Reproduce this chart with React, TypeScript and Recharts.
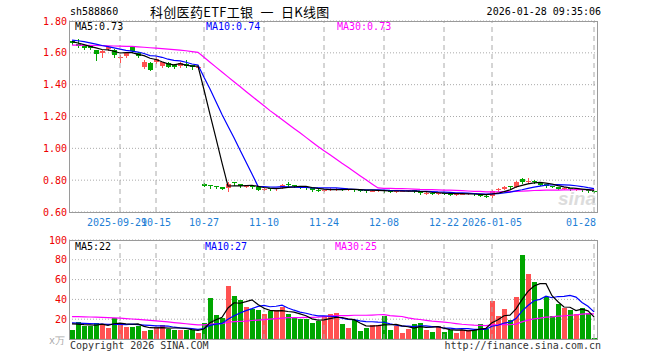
import React from 'react';
import { ComposedChart, Bar, Line, XAxis, YAxis, CartesianGrid, ReferenceLine } from 'recharts';

const dates = ['2025-09-17','2025-09-18','2025-09-19','2025-09-22','2025-09-23','2025-09-24','2025-09-25','2025-09-26','2025-09-29','2025-09-30','2025-10-09','2025-10-10','2025-10-13','2025-10-14','2025-10-15','2025-10-16','2025-10-17','2025-10-20','2025-10-21','2025-10-22','2025-10-23','2025-10-24','2025-10-27','2025-10-28','2025-10-29','2025-10-30','2025-10-31','2025-11-03','2025-11-04','2025-11-05','2025-11-06','2025-11-07','2025-11-10','2025-11-11','2025-11-12','2025-11-13','2025-11-14','2025-11-17','2025-11-18','2025-11-19','2025-11-20','2025-11-21','2025-11-24','2025-11-25','2025-11-26','2025-11-27','2025-11-28','2025-12-01','2025-12-02','2025-12-03','2025-12-04','2025-12-05','2025-12-08','2025-12-09','2025-12-10','2025-12-11','2025-12-12','2025-12-15','2025-12-16','2025-12-17','2025-12-18','2025-12-19','2025-12-22','2025-12-23','2025-12-24','2025-12-25','2025-12-26','2025-12-29','2025-12-30','2025-12-31','2026-01-05','2026-01-06','2026-01-07','2026-01-08','2026-01-09','2026-01-12','2026-01-13','2026-01-14','2026-01-15','2026-01-16','2026-01-19','2026-01-20','2026-01-21','2026-01-22','2026-01-23','2026-01-26','2026-01-27','2026-01-28'];

const openP = [1.672,1.658,1.643,1.640,1.618,1.600,1.622,1.615,1.570,1.578,1.640,1.600,1.510,1.538,1.540,1.515,1.538,1.524,1.517,1.530,1.522,1.505,
0.778,0.768,0.762,0.757,0.748,0.787,0.776,0.760,0.765,0.757,0.741,0.748,0.742,0.752,0.778,0.767,0.762,0.756,0.748,0.740,0.735,0.740,0.742,0.745,0.740,0.744,0.738,0.737,0.731,0.735,0.738,0.730,0.727,0.731,0.732,0.736,0.729,0.718,0.722,0.716,0.722,0.714,0.709,0.712,0.714,0.717,0.710,0.703,0.700,0.736,0.746,0.762,0.756,0.808,0.787,0.796,0.782,0.774,0.764,0.757,0.745,0.750,0.740,0.745,0.737,0.731];
const highP = [1.676,1.684,1.647,1.642,1.620,1.615,1.640,1.622,1.585,1.605,1.645,1.603,1.555,1.542,1.572,1.545,1.545,1.528,1.540,1.555,1.525,1.518,
0.780,0.769,0.764,0.758,0.786,0.790,0.779,0.770,0.768,0.759,0.752,0.750,0.752,0.773,0.787,0.770,0.764,0.758,0.750,0.742,0.744,0.752,0.748,0.747,0.747,0.746,0.740,0.739,0.738,0.740,0.740,0.732,0.734,0.735,0.738,0.737,0.730,0.726,0.723,0.725,0.723,0.716,0.716,0.718,0.720,0.718,0.712,0.705,0.740,0.750,0.762,0.766,0.795,0.815,0.814,0.802,0.784,0.777,0.766,0.759,0.755,0.753,0.750,0.747,0.739,0.733];
const lowP = [1.655,1.634,1.626,1.626,1.558,1.572,1.618,1.575,1.545,1.572,1.608,1.572,1.505,1.490,1.535,1.510,1.508,1.503,1.512,1.512,1.500,1.500,
0.762,0.752,0.750,0.742,0.735,0.772,0.758,0.754,0.752,0.736,0.738,0.738,0.740,0.750,0.764,0.758,0.752,0.744,0.735,0.733,0.732,0.737,0.738,0.737,0.738,0.734,0.733,0.728,0.729,0.732,0.726,0.725,0.725,0.729,0.730,0.726,0.715,0.716,0.713,0.714,0.711,0.707,0.707,0.710,0.712,0.708,0.699,0.696,0.695,0.732,0.742,0.752,0.754,0.780,0.785,0.782,0.768,0.760,0.754,0.743,0.742,0.739,0.737,0.733,0.727,0.726];
const closeP = [1.660,1.645,1.630,1.630,1.590,1.612,1.634,1.585,1.575,1.600,1.612,1.578,1.545,1.495,1.560,1.540,1.513,1.510,1.536,1.517,1.508,1.512,
0.766,0.765,0.758,0.746,0.773,0.783,0.762,0.764,0.756,0.741,0.745,0.742,0.750,0.770,0.767,0.762,0.756,0.748,0.739,0.736,0.740,0.743,0.745,0.740,0.744,0.738,0.736,0.731,0.735,0.738,0.729,0.727,0.731,0.733,0.736,0.729,0.718,0.722,0.716,0.722,0.714,0.710,0.713,0.715,0.717,0.710,0.702,0.699,0.735,0.745,0.758,0.756,0.790,0.787,0.795,0.788,0.772,0.765,0.758,0.746,0.750,0.742,0.744,0.736,0.730,0.728];

const ma5P = [1.670,1.662,1.652,1.641,1.631,1.621,1.619,1.610,1.599,1.601,1.601,1.590,1.582,1.566,1.558,1.544,1.531,1.524,1.532,1.523,1.517,1.517,
1.368,1.214,1.062,0.909,0.762,0.765,0.764,0.766,0.768,0.761,0.754,0.750,0.747,0.750,0.755,0.758,0.761,0.761,0.754,0.748,0.744,0.741,0.741,0.741,0.742,0.742,0.741,0.738,0.737,0.736,0.734,0.732,0.732,0.732,0.731,0.731,0.729,0.728,0.724,0.721,0.718,0.717,0.715,0.715,0.714,0.713,0.711,0.709,0.713,0.718,0.728,0.739,0.757,0.767,0.777,0.783,0.786,0.781,0.776,0.766,0.758,0.752,0.748,0.744,0.740,0.736];
const ma10P = [1.680,1.676,1.670,1.663,1.655,1.646,1.639,1.631,1.623,
1.616,1.611,1.605,1.596,1.583,1.580,1.572,1.560,1.553,1.549,1.541,1.530,1.524,
1.446,1.373,1.293,1.213,1.139,1.066,0.989,0.914,0.839,0.761,
0.759,0.757,0.756,0.759,0.758,0.756,0.755,0.754,0.752,0.752,
0.751,0.751,0.751,0.748,0.745,0.743,0.741,0.739,0.739,0.739,
0.738,0.736,0.735,0.734,0.733,0.733,0.731,0.730,0.728,0.726,
0.725,0.723,0.721,0.720,0.718,0.716,0.714,0.712,0.714,0.716,
0.720,0.725,0.733,0.740,0.748,0.756,0.763,0.769,0.771,0.772,
0.771,0.769,0.765,0.760,0.753,0.747];
const ma30P = [1.648,1.648,1.647,1.647,1.646,1.645,1.644,1.643,1.642,1.641,1.640,1.638,1.635,1.632,1.629,1.626,1.623,1.620,1.617,1.613,1.608,1.603,
1.572,1.541,1.510,1.480,1.449,1.418,1.388,1.357,
1.327,1.297,1.267,1.237,1.209,1.181,1.153,1.125,1.098,1.069,
1.040,1.012,0.985,0.960,0.933,0.906,0.881,0.855,0.828,0.802,
0.776,0.751,0.749,0.748,0.747,0.747,0.746,0.744,0.742,0.741,
0.740,0.739,0.738,0.737,0.736,0.734,0.732,0.730,0.729,0.727,
0.727,0.727,0.728,0.728,0.730,0.731,0.733,0.735,0.736,0.737,
0.738,0.738,0.739,0.739,0.740,0.740,0.740,0.739];

const volume = [9.5,17.3,13.3,13.3,16.3,14.6,11.6,21.4,16.5,12.6,12.6,13.6,8.5,9.5,12,14,10.4,9.5,9.5,9.5,8.8,6.4,
16.5,41.3,24,21.4,53.2,43,39,31.9,30.5,29.5,24.8,28.4,29,31.9,24.8,21.4,19.7,19.7,16,18,23.7,25.4,
25.8,15.6,11.6,19.3,8.5,11.6,14,14,23,9.5,12.9,6.4,10.4,15.6,16.6,9.5,7.4,13.6,7.4,9.5,6.4,9.5,
8.8,9.5,15.6,10.4,38,23.7,29.9,18.7,42,84.7,65.4,57.3,29.9,42,23.7,35,31,29,25,31,25.8,1.4];
const ma5V = [15.3,15.0,14.5,14.2,
13.9,15.0,13.8,15.4,16.1,15.3,14.9,15.3,12.8,11.4,11.2,11.5,10.9,11.1,11.1,10.6,9.5,8.7,
10.1,16.5,19.4,21.9,31.3,36.6,36.1,37.7,39.5,34.8,
31.1,29.0,28.4,28.7,27.8,27.1,25.4,23.5,20.3,19.0,
19.4,20.6,21.8,21.7,20.4,19.5,16.2,13.3,13.0,13.5,
14.2,14.4,14.7,13.2,12.4,11.0,12.4,11.7,11.9,12.5,
10.9,9.5,8.9,9.3,8.3,8.7,10.0,10.8,16.5,19.4,
23.5,24.1,30.5,39.8,48.1,53.6,55.9,55.9,43.7,37.6,
32.3,32.1,28.7,30.2,28.4,22.4];
const ma10V = [16.3,16.0,15.8,15.5,15.2,15.0,14.8,14.9,14.8,
14.6,15.0,14.6,14.1,13.7,13.3,13.2,13.1,11.9,11.2,10.9,10.5,9.8,
10.6,13.8,15.0,15.7,20.0,23.4,26.3,28.6,30.7,33.0,
33.9,32.6,33.1,34.1,31.3,29.1,27.2,26.0,24.5,23.4,
23.3,23.0,22.6,21.0,19.7,19.5,18.4,17.6,17.4,17.0,
16.9,15.3,14.0,13.1,13.0,12.6,13.4,13.2,12.5,12.5,
10.9,10.9,10.3,10.6,10.4,9.8,9.7,9.8,12.9,13.9,
16.1,17.1,20.6,28.1,33.8,38.6,40.0,43.2,41.7,42.9,
43.0,44.0,42.3,36.9,33.0,27.4];
const ma30V = [22.7,22.6,22.4,22.2,22.0,21.8,21.5,21.3,21.0,20.6,20.2,19.8,19.3,18.8,18.3,17.8,17.2,16.6,16.0,15.4,14.8,14.2,14.3,15.1,15.4,15.6,16.9,17.6,17.9,18.0,
18.7,19.1,19.5,20.0,20.5,21.0,21.5,21.5,21.6,21.8,
21.9,22.1,22.6,23.1,23.6,23.6,23.7,24.0,24.0,24.0,
24.2,24.5,24.7,23.6,23.2,22.7,21.3,20.4,19.7,18.9,
18.1,17.6,17.0,16.4,15.6,14.9,14.4,14.0,13.8,13.5,
14.3,14.4,14.6,14.4,15.0,17.3,19.1,20.3,21.0,22.1,
22.4,23.1,23.3,24.0,24.4,25.2,25.7,25.3];

const tickDates = ['2025-09-29','2025-10-15','2025-10-27','2025-11-10','2025-11-24','2025-12-08','2025-12-22','2026-01-05','2026-01-28'];
const tickTexts = ['2025-09-29','10-15','10-27','11-10','11-24','12-08','12-22','2026-01-05','01-28'];
const priceTicks = [0.6, 0.8, 1.0, 1.2, 1.4, 1.6, 1.8];
const volTicks = [0, 20, 40, 60, 80, 100];
const volUnit = 'x万';
const priceLegend = ['MA5:0.73', 'MA10:0.74', 'MA30:0.73'];
const volLegend = ['MA5:22', 'MA10:27', 'MA30:25'];
const headerCode = 'sh588860';
const headerTitle = '科创医药ETF工银 一 日K线图';
const headerTime = '2026-01-28 09:35:06';
const footerLeft = 'Copyright 2026 SINA.COM';
const footerRight = 'http://finance.sina.com.cn';

const UP = '#ff5252';
const DOWN = '#00a600';
const MONO = '"DejaVu Sans Mono", monospace';
const MA_COLORS = ['#000000', '#0000ff', '#ff00ff'];
const LEG_X = [75, 206, 337];
const VLEG_X = [75, 205, 335];

const Candle = (props: any) => {
  const { x, y, width, height, payload } = props;
  if (x == null || y == null || !payload) return null;
  const { open, close, high, low } = payload;
  const k = high > low ? height / (high - low) : 0;
  const yOf = (p: number) => y + (high - p) * k;
  const up = close >= open;
  const color = up ? UP : DOWN;
  const x0 = Math.round(x + width / 2 - 2.5);
  const top = Math.round(yOf(Math.max(open, close)));
  const bot = Math.round(yOf(Math.min(open, close)));
  const bh = Math.max(1, bot - top);
  return (
    <g>
      <line x1={x0 + 2.5} x2={x0 + 2.5} y1={Math.round(y)} y2={Math.round(y + height) + 1} stroke={color} strokeWidth={1} />
      <rect x={x0} y={top} width={5} height={bh} fill={color} shapeRendering="crispEdges" />
    </g>
  );
};

const VolBar = (props: any) => {
  const { x, y, width, height, payload } = props;
  if (x == null || y == null || !payload) return null;
  const x0 = Math.round(x + width / 2 - 2.5);
  const top = Math.round(y);
  const bot = Math.round(y + height);
  return <rect x={x0} y={top} width={5} height={Math.max(1, bot - top)} fill={payload.up ? UP : DOWN} shapeRendering="crispEdges" />;
};

const renderDateTick = (props: any) => {
  const { x, payload } = props;
  const idx = tickDates.indexOf(payload.value);
  if (idx < 0) return <g />;
  const last = idx === tickDates.length - 1;
  const first = idx === 0;
  return (
    <text x={last ? x + 2 : first ? x - 3 : x} y={225.5} textAnchor={last ? 'end' : 'middle'} fill="#1f7fd6" fontSize={10} fontFamily={MONO}>
      {tickTexts[idx]}
    </text>
  );
};

const renderPriceTick = (props: any) => {
  const { y, payload } = props;
  return (
    <text x={67} y={y} dy={3.5} textAnchor="end" fill="#ee0000" fontSize={10} fontFamily={MONO}>
      {Number(payload.value).toFixed(2)}
    </text>
  );
};

const renderVolTick = (props: any) => {
  const { y, payload } = props;
  if (payload.value === 0) {
    return (
      <text x={65} y={y} dy={5} textAnchor="end" fill="#aaaaaa" fontSize={10} fontFamily={MONO}>
        {volUnit}
      </text>
    );
  }
  return (
    <text x={67} y={y} dy={3.5} textAnchor="end" fill="#ee0000" fontSize={10} fontFamily={MONO}>
      {String(payload.value)}
    </text>
  );
};

export default function App() {
  const priceData = dates.map((d, i) => ({
    date: d,
    range: [lowP[i], highP[i]],
    open: openP[i],
    close: closeP[i],
    high: highP[i],
    low: lowP[i],
    ma5: ma5P[i],
    ma10: ma10P[i],
    ma30: ma30P[i],
  }));
  const volData = dates.map((d, i) => ({
    date: d,
    vol: volume[i],
    up: closeP[i] >= openP[i],
    ma5: ma5V[i],
    ma10: ma10V[i],
    ma30: ma30V[i],
  }));

  const txt = (extra: React.CSSProperties): React.CSSProperties => ({
    position: 'absolute',
    fontFamily: MONO,
    fontSize: 10,
    lineHeight: '10px',
    whiteSpace: 'nowrap',
    ...extra,
  });

  return (
    <div style={{ position: 'absolute', left: 0, top: 0, width: 660, height: 360, background: '#fff', overflow: 'hidden' }}>
      <div style={{ position: 'absolute', left: 558, top: 189, fontFamily: 'Arial, "Liberation Sans", sans-serif', fontWeight: 'bold', fontStyle: 'italic', fontSize: 19, lineHeight: '20px', color: '#dcdcdc' }}>sina</div>

      <div style={{ position: 'absolute', left: 0, top: 0 }}>
        <ComposedChart width={660} height={240} data={priceData} margin={{ top: 21, right: 63, bottom: 8, left: 0 }}>
          <CartesianGrid vertical={false} stroke="#aaaaaa" strokeDasharray="1 2" />
          {tickDates.map((d) => (
            <ReferenceLine key={d} x={d} stroke="#aaaaaa" strokeDasharray="5 4" />
          ))}
          <XAxis dataKey="date" ticks={tickDates} interval={0} axisLine={false} tickLine={false} height={20} tick={renderDateTick} />
          <YAxis type="number" domain={[0.6, 1.8]} ticks={priceTicks} interval={0} width={69} axisLine={false} tickLine={false} tick={renderPriceTick} allowDataOverflow />
          <Bar dataKey="range" barSize={5} shape={<Candle />} isAnimationActive={false} />
          <Line dataKey="ma30" stroke="#ff00ff" strokeWidth={1.2} dot={false} isAnimationActive={false} />
          <Line dataKey="ma10" stroke="#0000ff" strokeWidth={1.2} dot={false} isAnimationActive={false} />
          <Line dataKey="ma5" stroke="#000000" strokeWidth={1.2} dot={false} isAnimationActive={false} />
        </ComposedChart>
      </div>

      <div style={{ position: 'absolute', left: 0, top: 230 }}>
        <ComposedChart width={660} height={115} data={volData} margin={{ top: 10, right: 63, bottom: 6, left: 0 }}>
          <CartesianGrid vertical={false} stroke="#aaaaaa" strokeDasharray="1 2" />
          {tickDates.map((d) => (
            <ReferenceLine key={d} x={d} stroke="#aaaaaa" strokeDasharray="5 4" />
          ))}
          <XAxis dataKey="date" hide />
          <YAxis type="number" domain={[0, 100]} ticks={volTicks} interval={0} width={69} axisLine={false} tickLine={false} tick={renderVolTick} />
          <Bar dataKey="vol" barSize={5} shape={<VolBar />} isAnimationActive={false} />
          <Line dataKey="ma30" stroke="#ff00ff" strokeWidth={1.2} dot={false} isAnimationActive={false} />
          <Line dataKey="ma10" stroke="#0000ff" strokeWidth={1.2} dot={false} isAnimationActive={false} />
          <Line dataKey="ma5" stroke="#000000" strokeWidth={1.2} dot={false} isAnimationActive={false} />
        </ComposedChart>
      </div>

      <div style={{ position: 'absolute', left: 69, top: 21, width: 529, height: 192, border: '1px solid #9a9a9a', boxSizing: 'border-box', pointerEvents: 'none' }} />
      <div style={{ position: 'absolute', left: 69, top: 240, width: 529, height: 100, border: '1px solid #9a9a9a', boxSizing: 'border-box', pointerEvents: 'none' }} />

      <div style={txt({ left: 70, top: 7, color: '#000' })}>{headerCode}</div>
      <div style={{ position: 'absolute', left: 150, top: 4, fontFamily: '"Noto Sans CJK SC", sans-serif', fontSize: 13, lineHeight: '16px', letterSpacing: 0.3, wordSpacing: 4, color: '#000', whiteSpace: 'pre' }}>{headerTitle}</div>
      <div style={txt({ right: 59, top: 7, color: '#000' })}>{headerTime}</div>

      {priceLegend.map((t, i) => (
        <div key={t} style={txt({ left: LEG_X[i], top: 22, color: MA_COLORS[i] })}>{t}</div>
      ))}
      {volLegend.map((t, i) => (
        <div key={t} style={txt({ left: VLEG_X[i], top: 242, color: MA_COLORS[i] })}>{t}</div>
      ))}

      <div style={txt({ left: 70, top: 341, color: '#333' })}>{footerLeft}</div>
      <div style={txt({ right: 59, top: 341, color: '#333' })}>{footerRight}</div>
    </div>
  );
}
